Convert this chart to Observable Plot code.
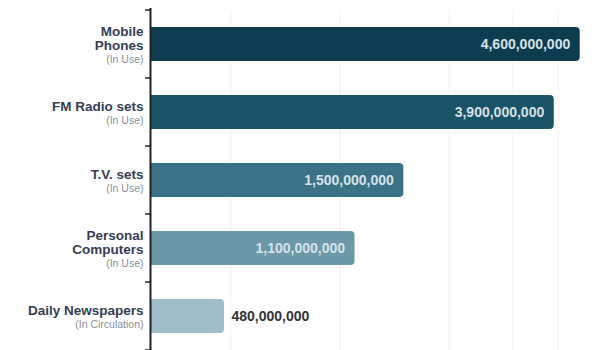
<!DOCTYPE html>
<html><head><meta charset="utf-8">
<script src="https://cdn.jsdelivr.net/npm/d3@7"></script>
<script src="https://cdn.jsdelivr.net/npm/@observablehq/plot@0.6"></script>
<style>body{margin:0;background:#fff}</style>
</head><body><div id="chart"></div>
<script>
const categories = ["Mobile\nPhones", "FM Radio sets", "T.V. sets", "Personal\nComputers", "Daily Newspapers"];
const subtitles = ["(In Use)", "(In Use)", "(In Use)", "(In Use)", "(In Circulation)"];
const values = [4600000000, 3900000000, 1500000000, 1100000000, 480000000];
const colors = ["#0e3d50", "#1a5266", "#3c7286", "#6b97a8", "#a0bdca"];
const gridValues = [5e8, 1e9, 2e9, 3e9, 4e9];

const data = categories.map((c, i) => ({
  cat: c, sub: subtitles[i], value: values[i], color: colors[i], lines: c.split("\n").length
}));
const xMin = 3e8;
const fmt = d3.format(",");
const font = "'Liberation Sans', Arial, Helvetica, sans-serif";

const plot = Plot.plot({
  width: 599, height: 350,
  marginLeft: 150, marginRight: 0, marginTop: 10, marginBottom: 0,
  x: {type: "log", domain: [xMin, 5.2e9], axis: null},
  y: {domain: categories, range: [10, 350], paddingInner: 0.5, paddingOuter: 0.25, axis: null},
  color: {type: "identity"},
  style: {fontFamily: font, background: "white", overflow: "visible"},
  marks: [
    Plot.ruleX(gridValues, {stroke: "#eef1f3", strokeWidth: 1}),
    Plot.barX(data, {x1: xMin, x2: "value", y: "cat", fill: "color", rx: 4}),
    Plot.barX(data, {x1: xMin, x2: d => d.value * 0.8, y: "cat", fill: "color"}),
    Plot.ruleX([xMin], {stroke: "#222", strokeWidth: 2, insetTop: -2}),
    Plot.text(data, {x: xMin, y: "cat", text: "cat", textAnchor: "end", dx: -7, dy: -6,
      fontSize: 13.5, fontWeight: "bold", fill: "#343e54", lineHeight: 1.0}),
    Plot.text(data.filter(d => d.lines === 1), {x: xMin, y: "cat", text: "sub", textAnchor: "end",
      dx: -7, dy: 8, fontSize: 10.5, fill: "#8a909a"}),
    Plot.text(data.filter(d => d.lines === 2), {x: xMin, y: "cat", text: "sub", textAnchor: "end",
      dx: -7, dy: 15, fontSize: 10.5, fill: "#8a909a"}),
    Plot.text(data.filter(d => d.value >= 1e9), {x: "value", y: "cat", text: d => fmt(d.value),
      textAnchor: "end", dx: -10, fontSize: 14, fontWeight: "bold", fill: "#d6e1e7"}),
    Plot.text(data.filter(d => d.value < 1e9), {x: "value", y: "cat", text: d => fmt(d.value),
      textAnchor: "start", dx: 7, fontSize: 14, fontWeight: "bold", fill: "#333"})
  ]
});

// tick marks at band boundaries on the vertical axis
const ys = plot.scale("y");
const xs = plot.scale("x");
const ax = xs.apply(xMin);
const half = ys.step * 0.25;
const bounds = ys.domain.map(c => ys.apply(c) - half);
bounds.push(ys.apply(ys.domain[ys.domain.length - 1]) + ys.bandwidth + half);
d3.select(plot).append("g")
  .selectAll("line").data(bounds).join("line")
  .attr("x1", ax - 5).attr("x2", ax).attr("y1", d => d).attr("y2", d => d)
  .attr("stroke", "#222").attr("stroke-width", 1.5);

document.getElementById("chart").appendChild(plot);
</script>
</body></html>
